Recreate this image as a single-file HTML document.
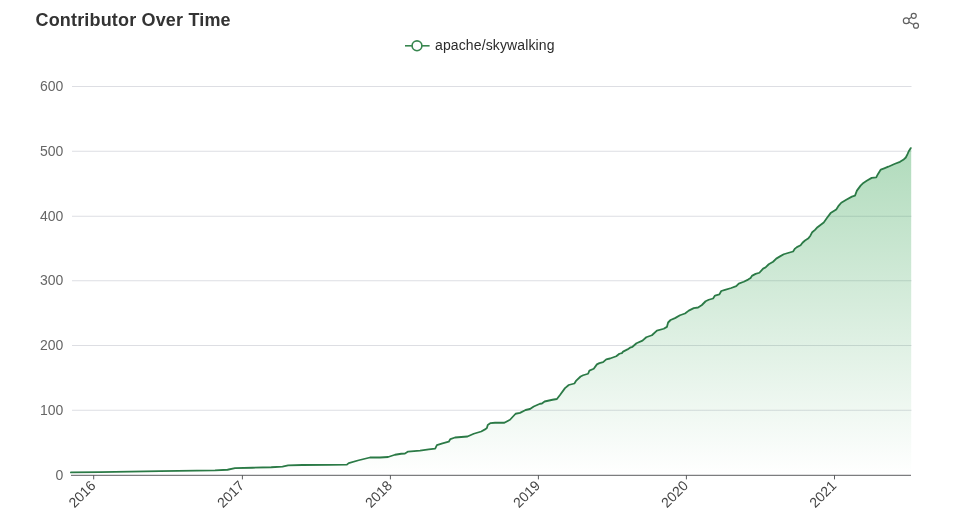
<!DOCTYPE html>
<html lang="en"><head><meta charset="utf-8"><title>Contributor Over Time</title>
<style>
html,body{margin:0;padding:0;background:#fff;}
body{width:960px;height:528px;position:relative;overflow:hidden;font-family:"Liberation Sans",Arial,sans-serif;}
</style></head><body>
<svg width="960" height="528" viewBox="0 0 960 528" style="position:absolute;left:0;top:0">
<defs><linearGradient id="g" gradientUnits="userSpaceOnUse" x1="0" y1="148" x2="0" y2="475"><stop offset="0" stop-color="#30a04e" stop-opacity="0.38"/><stop offset="1" stop-color="#30a04e" stop-opacity="0"/></linearGradient></defs>
<rect width="960" height="528" fill="#fff"/>
<line x1="72" x2="911.5" y1="86.5" y2="86.5" stroke="#dddee3" stroke-width="1"/>
<line x1="72" x2="911.5" y1="151.25" y2="151.25" stroke="#dddee3" stroke-width="1"/>
<line x1="72" x2="911.5" y1="216.25" y2="216.25" stroke="#dddee3" stroke-width="1"/>
<line x1="72" x2="911.5" y1="280.75" y2="280.75" stroke="#dddee3" stroke-width="1"/>
<line x1="72" x2="911.5" y1="345.5" y2="345.5" stroke="#dddee3" stroke-width="1"/>
<line x1="72" x2="911.5" y1="410.25" y2="410.25" stroke="#dddee3" stroke-width="1"/>
<path d="M70.90 472.40 L100.00 472.05 L160.00 471.10 L215.00 470.30 L227.50 469.75 L235.00 468.10 L252.50 467.75 L271.25 467.25 L282.50 466.60 L288.10 465.40 L302.50 465.00 L330.00 464.80 L346.90 464.60 L348.75 463.10 L358.75 460.25 L370.00 457.50 L380.00 457.50 L388.10 457.00 L395.00 454.75 L401.25 453.75 L405.00 453.50 L408.10 451.60 L420.00 450.60 L428.75 449.40 L435.20 448.60 L436.90 445.20 L442.50 443.30 L448.75 441.70 L450.40 439.10 L455.00 437.50 L467.50 436.50 L473.75 433.75 L481.25 431.50 L485.00 429.40 L486.90 428.10 L487.75 425.00 L490.60 423.10 L495.00 422.75 L504.40 422.75 L510.00 419.75 L515.60 413.75 L520.00 412.90 L525.60 410.00 L530.00 409.00 L533.75 406.50 L540.00 403.75 L541.90 403.50 L544.60 401.50 L552.50 399.75 L556.90 399.00 L560.00 395.00 L565.00 388.10 L568.75 385.00 L574.40 383.50 L576.25 380.60 L580.60 376.50 L583.10 375.25 L588.10 373.75 L589.40 370.60 L593.75 368.75 L596.90 364.40 L599.40 363.10 L603.10 362.10 L606.25 359.40 L610.00 358.50 L616.25 356.25 L619.40 353.75 L621.90 353.10 L623.10 351.60 L627.50 349.40 L630.00 347.70 L632.50 346.80 L636.50 343.30 L642.50 340.60 L646.25 337.25 L651.90 335.25 L656.90 330.60 L663.75 328.75 L666.90 326.90 L668.10 322.50 L670.60 320.00 L675.00 318.10 L680.00 315.25 L685.00 313.50 L688.75 310.60 L693.75 308.10 L698.10 307.50 L701.90 305.00 L705.60 301.25 L708.75 299.75 L713.10 298.50 L715.00 295.60 L719.40 294.40 L721.25 291.00 L725.00 289.80 L731.25 288.00 L736.25 286.10 L738.75 283.60 L743.75 281.75 L748.10 279.60 L750.60 278.00 L751.90 275.90 L755.60 273.90 L759.40 272.75 L763.10 268.60 L765.60 267.40 L768.75 264.25 L773.10 261.75 L776.25 258.60 L780.00 256.40 L783.75 254.25 L788.75 252.75 L793.10 251.50 L795.00 248.60 L796.90 247.10 L800.60 245.25 L802.50 242.75 L805.00 240.50 L808.10 238.60 L810.40 235.70 L812.20 232.20 L815.00 229.90 L817.50 227.20 L823.75 222.50 L826.90 218.10 L830.60 213.10 L836.25 209.40 L838.75 205.60 L841.25 202.75 L846.25 199.75 L851.90 196.60 L855.00 195.60 L856.90 190.60 L860.60 185.60 L863.40 182.90 L866.70 180.80 L871.70 177.90 L876.25 177.30 L877.90 174.20 L880.80 169.60 L884.20 168.30 L888.30 166.70 L895.00 163.75 L900.00 161.80 L903.30 159.80 L905.80 157.50 L907.50 154.20 L908.75 151.25 L910.80 148.10 L911.2 148.10 L911.2 475 L70.90 475 Z" fill="url(#g)"/>
<line x1="71" x2="911" y1="475.3" y2="475.3" stroke="#5c5d60" stroke-width="1"/>
<line x1="93.7" x2="93.7" y1="475" y2="479.4" stroke="#5c5d60" stroke-width="1"/>
<line x1="242.4" x2="242.4" y1="475" y2="479.4" stroke="#5c5d60" stroke-width="1"/>
<line x1="390.4" x2="390.4" y1="475" y2="479.4" stroke="#5c5d60" stroke-width="1"/>
<line x1="538.4" x2="538.4" y1="475" y2="479.4" stroke="#5c5d60" stroke-width="1"/>
<line x1="686.4" x2="686.4" y1="475" y2="479.4" stroke="#5c5d60" stroke-width="1"/>
<line x1="834.5" x2="834.5" y1="475" y2="479.4" stroke="#5c5d60" stroke-width="1"/>
<path d="M70.90 472.40 L100.00 472.05 L160.00 471.10 L215.00 470.30 L227.50 469.75 L235.00 468.10 L252.50 467.75 L271.25 467.25 L282.50 466.60 L288.10 465.40 L302.50 465.00 L330.00 464.80 L346.90 464.60 L348.75 463.10 L358.75 460.25 L370.00 457.50 L380.00 457.50 L388.10 457.00 L395.00 454.75 L401.25 453.75 L405.00 453.50 L408.10 451.60 L420.00 450.60 L428.75 449.40 L435.20 448.60 L436.90 445.20 L442.50 443.30 L448.75 441.70 L450.40 439.10 L455.00 437.50 L467.50 436.50 L473.75 433.75 L481.25 431.50 L485.00 429.40 L486.90 428.10 L487.75 425.00 L490.60 423.10 L495.00 422.75 L504.40 422.75 L510.00 419.75 L515.60 413.75 L520.00 412.90 L525.60 410.00 L530.00 409.00 L533.75 406.50 L540.00 403.75 L541.90 403.50 L544.60 401.50 L552.50 399.75 L556.90 399.00 L560.00 395.00 L565.00 388.10 L568.75 385.00 L574.40 383.50 L576.25 380.60 L580.60 376.50 L583.10 375.25 L588.10 373.75 L589.40 370.60 L593.75 368.75 L596.90 364.40 L599.40 363.10 L603.10 362.10 L606.25 359.40 L610.00 358.50 L616.25 356.25 L619.40 353.75 L621.90 353.10 L623.10 351.60 L627.50 349.40 L630.00 347.70 L632.50 346.80 L636.50 343.30 L642.50 340.60 L646.25 337.25 L651.90 335.25 L656.90 330.60 L663.75 328.75 L666.90 326.90 L668.10 322.50 L670.60 320.00 L675.00 318.10 L680.00 315.25 L685.00 313.50 L688.75 310.60 L693.75 308.10 L698.10 307.50 L701.90 305.00 L705.60 301.25 L708.75 299.75 L713.10 298.50 L715.00 295.60 L719.40 294.40 L721.25 291.00 L725.00 289.80 L731.25 288.00 L736.25 286.10 L738.75 283.60 L743.75 281.75 L748.10 279.60 L750.60 278.00 L751.90 275.90 L755.60 273.90 L759.40 272.75 L763.10 268.60 L765.60 267.40 L768.75 264.25 L773.10 261.75 L776.25 258.60 L780.00 256.40 L783.75 254.25 L788.75 252.75 L793.10 251.50 L795.00 248.60 L796.90 247.10 L800.60 245.25 L802.50 242.75 L805.00 240.50 L808.10 238.60 L810.40 235.70 L812.20 232.20 L815.00 229.90 L817.50 227.20 L823.75 222.50 L826.90 218.10 L830.60 213.10 L836.25 209.40 L838.75 205.60 L841.25 202.75 L846.25 199.75 L851.90 196.60 L855.00 195.60 L856.90 190.60 L860.60 185.60 L863.40 182.90 L866.70 180.80 L871.70 177.90 L876.25 177.30 L877.90 174.20 L880.80 169.60 L884.20 168.30 L888.30 166.70 L895.00 163.75 L900.00 161.80 L903.30 159.80 L905.80 157.50 L907.50 154.20 L908.75 151.25 L910.80 148.10" fill="none" stroke="#2b7a46" stroke-width="1.8" stroke-linejoin="round" stroke-linecap="round"/>
<g font-family="'Liberation Sans', Arial, sans-serif">
<text x="35.5" y="26" font-size="18" font-weight="bold" fill="#333" letter-spacing="0.17">Contributor Over Time</text>
<text x="63.3" y="91.0" font-size="14" fill="#666" text-anchor="end">600</text>
<text x="63.3" y="155.75" font-size="14" fill="#666" text-anchor="end">500</text>
<text x="63.3" y="220.75" font-size="14" fill="#666" text-anchor="end">400</text>
<text x="63.3" y="285.25" font-size="14" fill="#666" text-anchor="end">300</text>
<text x="63.3" y="350.0" font-size="14" fill="#666" text-anchor="end">200</text>
<text x="63.3" y="414.75" font-size="14" fill="#666" text-anchor="end">100</text>
<text x="63.3" y="479.5" font-size="14" fill="#666" text-anchor="end">0</text>
<text transform="translate(92.9,483) rotate(-45)" font-size="14" fill="#444" text-anchor="end" y="5">2016</text>
<text transform="translate(241.6,483) rotate(-45)" font-size="14" fill="#444" text-anchor="end" y="5">2017</text>
<text transform="translate(389.59999999999997,483) rotate(-45)" font-size="14" fill="#444" text-anchor="end" y="5">2018</text>
<text transform="translate(537.6,483) rotate(-45)" font-size="14" fill="#444" text-anchor="end" y="5">2019</text>
<text transform="translate(685.6,483) rotate(-45)" font-size="14" fill="#444" text-anchor="end" y="5">2020</text>
<text transform="translate(833.7,483) rotate(-45)" font-size="14" fill="#444" text-anchor="end" y="5">2021</text>
<text x="435" y="49.9" font-size="14" fill="#2b2b2b" letter-spacing="0.12">apache/skywalking</text>
</g>
<line x1="405" x2="429.6" y1="45.8" y2="45.8" stroke="#38864f" stroke-width="1.6"/>
<circle cx="417" cy="45.8" r="4.9" fill="#fff" stroke="#38864f" stroke-width="1.6"/>
<g fill="#fff" stroke="#606060" stroke-width="1.2"><line x1="906.25" y1="20.7" x2="913.75" y2="15.8"/><line x1="906.25" y1="20.7" x2="916" y2="25.7"/><circle cx="906.25" cy="20.7" r="2.9"/><circle cx="913.75" cy="15.8" r="2.5"/><circle cx="916" cy="25.7" r="2.5"/></g>
</svg>
</body></html>
